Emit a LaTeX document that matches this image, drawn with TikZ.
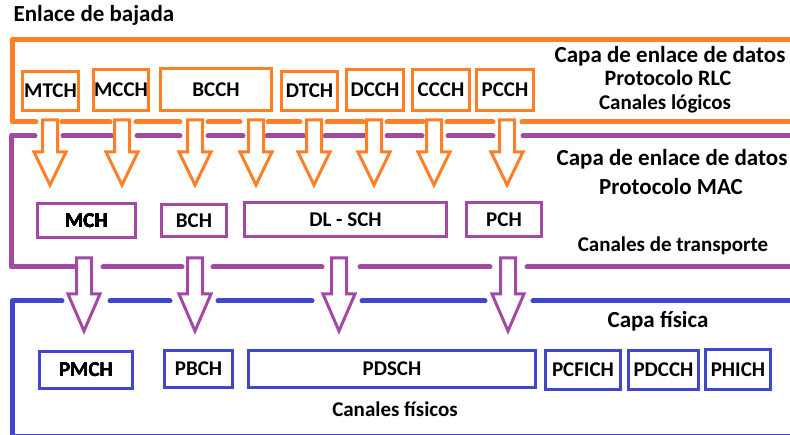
\documentclass[tikz,border=0pt]{standalone}
\usepackage{fontspec}
\setmainfont{Carlito}
\definecolor{lgorange}{RGB}{255,127,39}
\definecolor{lgpurple}{RGB}{163,73,164}
\definecolor{lgblue}{RGB}{63,72,204}
\tikzset{
  chan/.style={draw,line width=3pt,inner sep=0pt,font=\fontsize{21}{21}\selectfont\bfseries},
  layer/.style={line width=5pt,line cap=round,line join=round},
  blk/.style={line width=3pt,line join=miter,fill=white},
  tag/.style={anchor=base,font=\fontsize{23}{23}\selectfont\bfseries},
  tagsmall/.style={anchor=base,font=\fontsize{21}{21}\selectfont\bfseries}
}
% block arrow: colour, x, stem top, neck, tip
\newcommand{\blkarrow}[5]{\draw[blk,draw=#1] (#2-7.5,#3) -- (#2+7.5,#3) -- (#2+7.5,#4) -- (#2+16,#4) -- (#2,#5) -- (#2-16,#4) -- (#2-7.5,#4) -- cycle;}

\begin{document}
\begin{tikzpicture}[x=1pt,y=-1pt]
\useasboundingbox (0,0) rectangle (790,435);
\node[anchor=base west,font=\fontsize{23}{23}\selectfont\bfseries] (title) at (10,22) {Enlace de bajada};
% logical channels (RLC)
\draw[layer,lgorange] (800,40) -| (12,122) -- (36,122);
\foreach \a/\b in {62/110,136/180,208/240,268/300,327/363,387/423,447/493,522/800}
  \draw[layer,lgorange] (\a,122) -- (\b,122);
\node[chan,lgorange,minimum width=56,minimum height=39,text=black] (mtch) at (50.5,91) {MTCH};
\node[chan,lgorange,minimum width=55,minimum height=41,text=black] (mcch) at (121,90) {MCCH};
\node[chan,lgorange,minimum width=111,minimum height=42,text=black] (bcch) at (216,89.5) {BCCH};
\node[chan,lgorange,minimum width=56,minimum height=39,text=black] (dtch) at (309.5,91) {DTCH};
\node[chan,lgorange,minimum width=57,minimum height=41,text=black] (dcch) at (375,90) {DCCH};
\node[chan,lgorange,minimum width=57,minimum height=41,text=black] (ccch) at (441,90) {CCCH};
\node[chan,lgorange,minimum width=57,minimum height=41,text=black] (pcch) at (505,90) {PCCH};
\node[tag] (rlc1) at (670,63) {Capa de enlace de datos};
\node[tag,font=\fontsize{22}{22}\selectfont\bfseries] (rlc2) at (668,86) {Protocolo RLC};
\node[tagsmall] (rlc3) at (665,110) {Canales lógicos};
% transport channels (MAC)
\draw[layer,lgpurple] (35,136) -- (11,136) -- (11,267) -- (75,267);
\foreach \a/\b in {63/112,137/180,208/243,267/304,325/365,387/422,448/493,523/800}
  \draw[layer,lgpurple] (\a,136) -- (\b,136);
\foreach \a/\b in {103/182,213/322,360/490,527/800}
  \draw[layer,lgpurple] (\a,267) -- (\b,267);
\foreach \x in {50,122,195,256,314,374,434,507}
  \blkarrow{lgorange}{\x}{120}{152}{185}
\node[chan,lgpurple,minimum width=98,minimum height=34,text=black] (mch) at (86.5,220.5) {MCH};
\node[chan,lgpurple,minimum width=65,minimum height=32,text=black] (bch) at (194,220.5) {BCH};
\node[chan,lgpurple,minimum width=202,minimum height=34,text=black] (dlsch) at (345.5,219.5) {DL - SCH};
\node[chan,lgpurple,minimum width=75,minimum height=34,text=black] (pch) at (504,219.5) {PCH};
\node[tag] (mac1) at (672,166) {Capa de enlace de datos};
\node[tag] (mac2) at (671,195) {Protocolo MAC};
\node[tagsmall] (mac3) at (673,252) {Canales de transporte};
% physical channels
\draw[layer,lgblue] (62,301) -- (12,301) -- (12,437) -- (800,437);
\foreach \a/\b in {110/170,218/312,362/485,533/800}
  \draw[layer,lgblue] (\a,301) -- (\b,301);
\foreach \x in {84,195,339,508}
  \blkarrow{lgpurple}{\x}{258}{294}{331}
\node[chan,lgblue,minimum width=93,minimum height=37,text=black] (pmch) at (86,370) {PMCH};
\node[chan,lgblue,minimum width=68,minimum height=37,text=black] (pbch) at (198.5,369) {PBCH};
\node[chan,lgblue,minimum width=287,minimum height=37,text=black] (pdsch) at (392,369) {PDSCH};
\node[chan,lgblue,minimum width=75,minimum height=39,text=black] (pcfich) at (583,370) {PCFICH};
\node[chan,lgblue,minimum width=70,minimum height=39,text=black] (pdcch) at (663.5,370) {PDCCH};
\node[chan,lgblue,minimum width=65,minimum height=40,text=black] (phich) at (738,370) {PHICH};
\node[tag] (phy1) at (658,328) {Capa física};
\node[tagsmall] (phy2) at (395,417) {Canales físicos};
\end{tikzpicture}
\end{document}
